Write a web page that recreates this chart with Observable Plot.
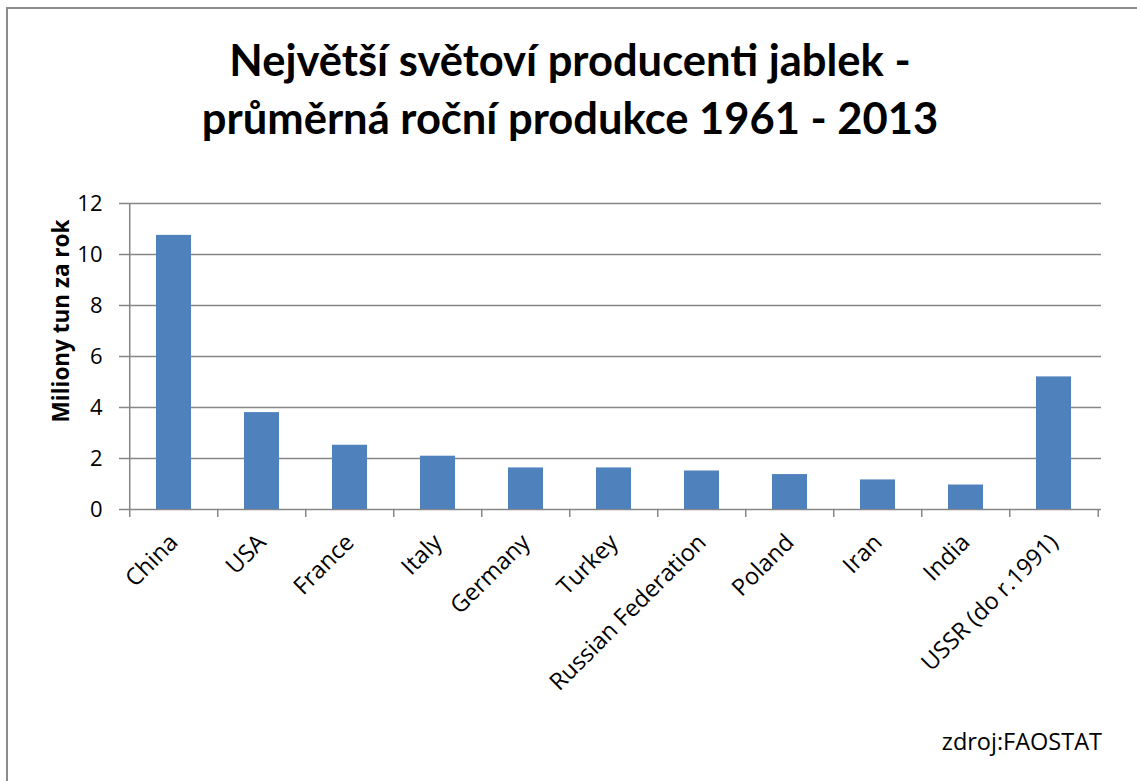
<!DOCTYPE html>
<html><head><meta charset="utf-8">
<script src="https://cdn.jsdelivr.net/npm/d3@7"></script>
<script src="https://cdn.jsdelivr.net/npm/@observablehq/plot@0.6"></script>
<style>
body{margin:0;background:#fff;}
#chart{position:relative;width:1137px;height:781px;overflow:hidden;background:#fff;}
#frame{position:absolute;left:6px;top:7px;width:1300px;height:900px;border-left:2px solid #8c8c8c;border-top:2px solid #8c8c8c;}
#plot{position:absolute;left:0;top:0;}
#title{position:absolute;left:0;width:1140px;top:30px;text-align:center;font-family:Lato,sans-serif;font-weight:bold;font-size:43.5px;line-height:58px;color:#000;}
#ylabel{position:absolute;left:60px;top:321px;transform:translate(-50%,-50%) rotate(-90deg);white-space:nowrap;font-family:'Open Sans',sans-serif;font-weight:bold;font-size:22.5px;color:#000;}
#source{position:absolute;right:35px;top:730px;font-family:'Open Sans',sans-serif;font-size:23.5px;line-height:23.5px;color:#000;}
</style>
</head><body>
<div id="chart">
<div id="frame"></div>
<div id="plot"></div>
<div id="title">Největší světoví producenti jablek -<br>průměrná roční produkce 1961 - 2013</div>
<div id="ylabel">Miliony tun za rok</div>
<div id="source">zdroj:FAOSTAT</div>
</div>
<script>
const countries = ["China","USA","France","Italy","Germany","Turkey","Russian Federation","Poland","Iran","India","USSR (do r.1991)"];
const production = [10.75,3.8,2.52,2.09,1.63,1.63,1.51,1.37,1.16,0.96,5.2];
const yTicks = [0,2,4,6,8,10,12];

const data = countries.map((c,i)=>({country:c, value:production[i]}));
const W=1137,H=781,mL=127,mR=36,mT=203,mB=272;
const step=(W-mL-mR)/countries.length;
const gray="#868686";
const font="'Open Sans',sans-serif";
const chart = Plot.plot({
  width:W,height:H,marginLeft:mL,marginRight:mR,marginTop:mT,marginBottom:mB,
  style:{fontFamily:font,fontSize:"22px",color:"#000",background:"transparent",overflow:"visible"},
  x:{type:"band",domain:countries,paddingInner:0.6,paddingOuter:0.3},
  y:{domain:[0,12]},
  marks:[
    Plot.ruleY(yTicks,{y:d=>d,stroke:gray,strokeWidth:1.5}),
    Plot.barY(data,{x:"country",y:"value",fill:"#4F81BD"}),
    Plot.ruleX(countries,{x:d=>d,dx:-step/2,y1:0,y2:0,insetBottom:-8,stroke:gray,strokeWidth:1.5}),
    Plot.ruleX([countries[countries.length-1]],{x:d=>d,dx:step/2,y1:0,y2:0,insetBottom:-8,stroke:gray,strokeWidth:1.5}),
    Plot.ruleX([countries[0]],{x:d=>d,dx:-step/2,y1:0,y2:12,stroke:gray,strokeWidth:1.5}),
    Plot.axisY({ticks:yTicks,tickSize:8,tickPadding:17,stroke:gray,strokeWidth:1.5,fill:"#000",fontSize:22,fontFamily:font,label:null,tickFormat:d=>String(d)}),
    Plot.axisX({tickSize:0,tickRotate:-45,tickPadding:29,fill:"#000",fontSize:23.5,fontFamily:font,label:null})
  ]
});
document.getElementById("plot").appendChild(chart);
</script>
</body></html>
